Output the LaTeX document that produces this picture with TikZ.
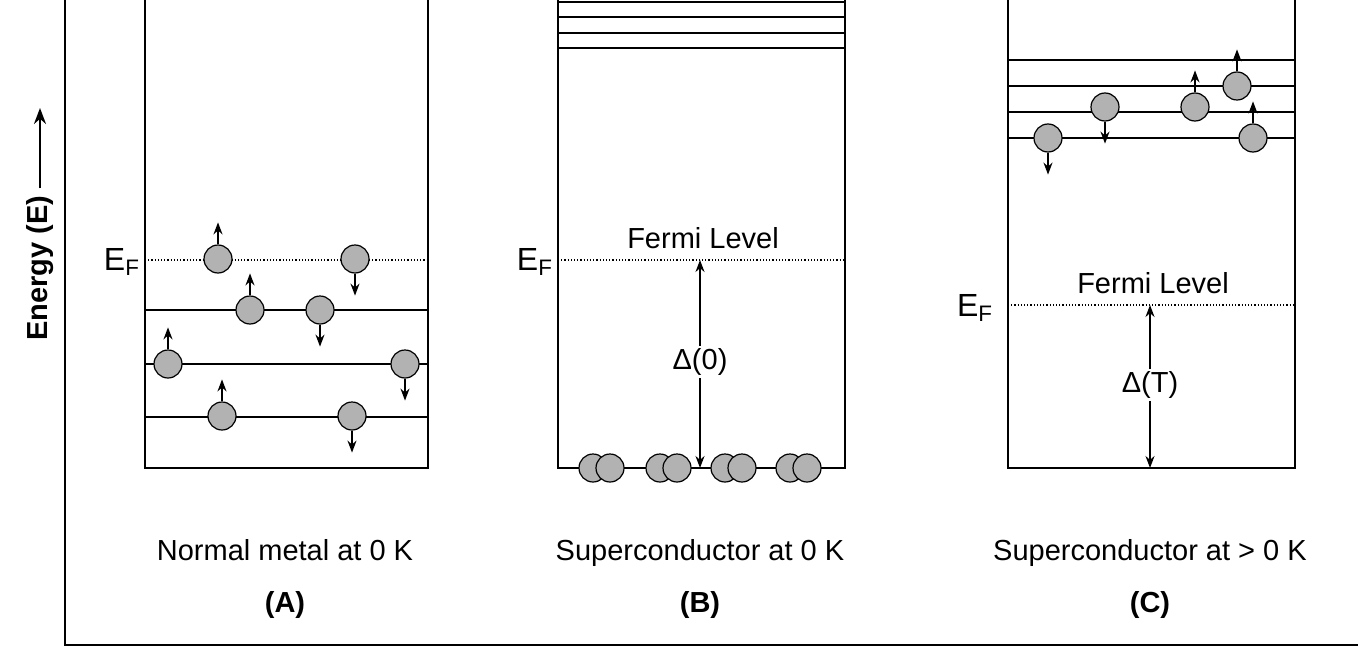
\documentclass[tikz,border=0pt]{standalone}
\usepackage{fontspec}
\setmainfont{Liberation Sans}
\usetikzlibrary{arrows.meta}
\begin{document}
\begin{tikzpicture}[x=0.5pt,y=-0.5pt,
 lvl/.style={line width=0.9pt},
 dot/.style={densely dotted,line width=0.6pt},
 el/.style={circle,draw,fill=gray!60,minimum size=14pt,inner sep=0pt,line width=0.6pt},
 spin/.style={-{Stealth[length=6pt,width=4.5pt]},line width=0.9pt},
 txt/.style={font=\fontsize{14.5pt}{17pt}\selectfont},
 ef/.style={font=\fontsize{16pt}{18pt}\selectfont},
 lab/.style={font=\fontsize{14.5pt}{17pt}\selectfont\bfseries}]
\useasboundingbox (0,0) rectangle (1358,647);
% axes
\draw[line width=0.9pt] (65,0) coordinate (ay) -- (65,645) coordinate (o) -- (1358,645) coordinate (ax);
\node[lab,rotate=90] (en) at (40,268) {Energy (E)};
\coordinate (etop) at (40,108);
\draw[-{Stealth[length=8pt,width=6pt]},line width=1.2pt] (en.east) -- (etop);
% Panel A
\draw[lvl] (145,0) -- (145,468) -- (428,468) -- (428,0);
\draw[dot] (145,260) -- (428,260);
\foreach \y in {310,364,417} \draw[lvl] (145,\y) -- (428,\y);
\node[ef] (efa) at (122,262) {E\textsubscript{F}};
\foreach \x/\y/\d in {218/259/u,355/259/d,250/310/u,320/310/d,168/364/u,405/364/d,222/416/u,352/416/d}{
  \node[el] (c) at (\x,\y) {};
  \if\d u \draw[spin] (c.north) -- ++(0,-22); \else \draw[spin] (c.south) -- ++(0,22); \fi
}
\node[txt,anchor=base] (ta) at (285,560) {Normal metal at 0 K};
\node[lab,anchor=base] (la) at (285,612) {(A)};
% Panel B
\draw[lvl] (558,0) -- (558,468) -- (845,468) -- (845,0);
\foreach \y in {2,17,33,48} \draw[lvl] (558,\y) -- (845,\y);
\draw[dot] (558,260) -- (845,260);
\node[ef] (efb) at (535,262) {E\textsubscript{F}};
\node[txt,anchor=base] (fb) at (703,248) {Fermi Level};
\coordinate (b1) at (700,260); \coordinate (b2) at (700,468);
\node[txt,fill=white,inner sep=1pt] (db) at (700,362) {Δ(0)};
\draw[spin] (db.north) -- (b1);
\draw[spin] (db.south) -- (b2);
\foreach \x in {593,660,725,790}{
  \node[el] at (\x,468) {};
  \node[el] at (\x+17,468) {};
}
\node[txt,anchor=base] (tb) at (700,560) {Superconductor at 0 K};
\node[lab,anchor=base] (lb) at (700,612) {(B)};
% Panel C
\draw[lvl] (1008,0) -- (1008,468) -- (1295,468) -- (1295,0);
\foreach \y in {60,86,112} \draw[lvl] (1008,\y) -- (1295,\y);
\draw[line width=1.4pt] (1008,138) -- (1295,138);
\draw[dot] (1008,305) -- (1295,305);
\node[ef] (efc) at (975,308) {E\textsubscript{F}};
\node[txt,anchor=base] (fc) at (1153,293) {Fermi Level};
\coordinate (c1) at (1150,305); \coordinate (c2) at (1150,468);
\node[txt,fill=white,inner sep=1pt] (dc) at (1150,385) {Δ(T)};
\draw[spin] (dc.north) -- (c1);
\draw[spin] (dc.south) -- (c2);
\foreach \x/\y/\d in {1048/138/d,1105/107/d,1195/107/u,1237/86/u,1253/138/u}{
  \node[el] (c) at (\x,\y) {};
  \if\d u \draw[spin] (c.north) -- ++(0,-22); \else \draw[spin] (c.south) -- ++(0,22); \fi
}
\node[txt,anchor=base] (tc) at (1150,560) {Superconductor at > 0 K};
\node[lab,anchor=base] (lc) at (1150,612) {(C)};
\end{tikzpicture}
\end{document}
